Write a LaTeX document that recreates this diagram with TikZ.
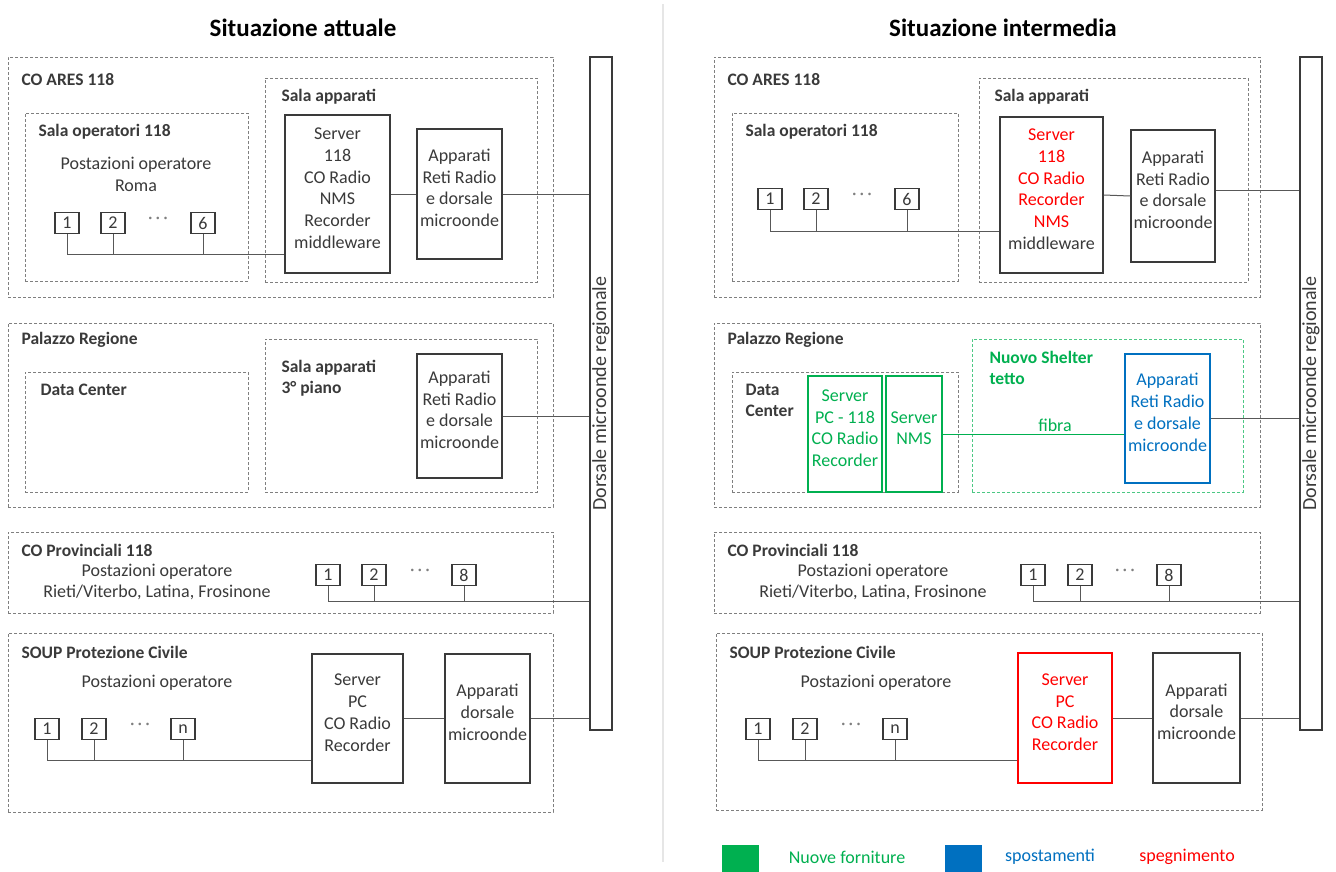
\documentclass[tikz,border=0pt]{standalone}
\usepackage{fontspec}
\setmainfont{Carlito}
\usetikzlibrary{fit}
\definecolor{gGreen}{HTML}{00B050}
\definecolor{gBlue}{HTML}{0070C0}
\definecolor{gRed}{HTML}{FF0000}
\definecolor{ink}{HTML}{3A3A3A}
\definecolor{dashc}{HTML}{7F7F7F}
\definecolor{sepc}{HTML}{E6E6E6}
\begin{document}
\begin{tikzpicture}[x=1pt,y=-1pt,
  every node/.style={font=\fontsize{18}{21.8}\selectfont, text=ink},
  grp/.style={draw=dashc, dash pattern=on 3pt off 2pt, line width=1pt, inner sep=0pt},
  sbox/.style={draw=ink, line width=1.5pt, inner sep=0pt, align=center},
  num/.style={draw=ink, line width=1.3pt, minimum width=24pt, minimum height=21pt, inner sep=0pt},
  lbl/.style={anchor=west, align=left, font=\bfseries\fontsize{17.5}{21}\selectfont},
  ttl/.style={font=\bfseries\fontsize{25}{28}\selectfont, text=black},
  dots/.style={text=dashc},
  wire/.style={draw=ink!85, line width=1pt},
  bartxt/.style={rotate=90, font=\fontsize{20}{22}\selectfont}
]
\useasboundingbox (0,0) rectangle (1336,871);
\fill[white] (0,0) rectangle (1336,871);
\draw[sepc, line width=1.5pt] (663,4) -- (663,862);

% ================= LEFT =================
\node[ttl] (tL) at (303,28) {Situazione attuale};

\node[grp, fit={(8,57)(553,297)}] (aresL) {};
\node[lbl] (aresLl) at (18,80) {CO ARES 118};
\node[grp, fit={(25,113)(248,281)}] (sopL) {};
\node[lbl] (sopLl) at (35,132) {Sala operatori 118};
\node (sopLt) at (136,174) [align=center] {Postazioni operatore\\Roma};
\node[num] (a1L) at (67,223) {1};
\node[num] (a2L) at (113,223) {2};
\node[dots] (adL) at (158,220) {·\,·\,·};
\node[num] (a6L) at (203,223) {6};
\node[grp, fit={(265,78)(537,282)}] (sapL) {};
\node[lbl] (sapLl) at (278,97) {Sala apparati};
\node[sbox, fit={(285,115)(390,273)}] (srvL) {Server\\118\\CO Radio\\NMS\\Recorder\\middleware};
\node[sbox, fit={(417,129)(502,259)}] (appL) {Apparati\\Reti Radio\\e dorsale\\microonde};

\node[sbox, line width=1.3pt, fit={(590,57)(612,730)}] (barL) {};
\node[bartxt] (barLt) at (barL.center) {Dorsale microonde regionale};

\path (a1L.south) ++(0,20) coordinate (busAL);
\draw[wire] (a1L.south) |- (busAL -| srvL.west);
\draw[wire] (a2L.south) -- (a2L.south |- busAL);
\draw[wire] (a6L.south) -- (a6L.south |- busAL);
\draw[wire] (srvL.east) -- (appL.west);
\draw[wire] (appL.east) -- (appL.east -| barL.west);

\node[grp, fit={(8,323)(553,507)}] (palL) {};
\node[lbl] (palLl) at (18,340) {Palazzo Regione};
\node[grp, fit={(25,372)(248,492)}] (dcL) {};
\node[lbl] (dcLl) at (37,390) {Data Center};
\node[grp, fit={(265,339)(537,492)}] (sa3L) {};
\node[lbl] (sa3Ll) at (278,378.5) {Sala apparati\\3° piano};
\node[sbox, fit={(417,354)(502,478)}] (app2L) {Apparati\\Reti Radio\\e dorsale\\microonde};
\draw[wire] (app2L.east) -- (app2L.east -| barL.west);

\node[grp, fit={(8,532)(553,613)}] (provL) {};
\node[lbl] (provLl) at (18,550) {CO Provinciali 118};
\node (provLt) at (157,582) [align=center] {Postazioni operatore\\Rieti/Viterbo, Latina, Frosinone};
\node[num] (p1L) at (328,575) {1};
\node[num] (p2L) at (374,575) {2};
\node[dots] (pdL) at (420,572) {·\,·\,·};
\node[num] (p8L) at (464,575) {8};
\path (p1L.south) ++(0,15.5) coordinate (busPL);
\draw[wire] (p1L.south) |- (busPL -| barL.west);
\draw[wire] (p2L.south) -- (p2L.south |- busPL);
\draw[wire] (p8L.south) -- (p8L.south |- busPL);

\node[grp, fit={(8,633)(553,812)}] (soupL) {};
\node[lbl] (soupLl) at (18,652) {SOUP Protezione Civile};
\node (soupLt) at (157,683) {Postazioni operatore};
\node[num] (s1L) at (47,729) {1};
\node[num] (s2L) at (94,729) {2};
\node[dots] (sdL) at (140,726) {·\,·\,·};
\node[num] (snL) at (183,729) {n};
\node[sbox, text depth=34pt, fit={(312,654)(403,783)}] (srv3L) {Server\\PC\\CO Radio\\Recorder};
\node[sbox, fit={(445,654)(530,783)}] (app3L) {Apparati\\dorsale\\microonde};
\path (s1L.south) ++(0,20.5) coordinate (busSL);
\draw[wire] (s1L.south) |- (busSL -| srv3L.west);
\draw[wire] (s2L.south) -- (s2L.south |- busSL);
\draw[wire] (snL.south) -- (snL.south |- busSL);
\draw[wire] (srv3L.east) -- (app3L.west);
\draw[wire] (app3L.east) -- (app3L.east -| barL.west);

% ================= RIGHT =================
\node[ttl] (tR) at (1003,28) {Situazione intermedia};

\node[grp, fit={(714,57)(1260,297)}] (aresR) {};
\node[lbl] (aresRl) at (724,80) {CO ARES 118};
\node[grp, fit={(732,113)(958,281)}] (sopR) {};
\node[lbl] (sopRl) at (742,132) {Sala operatori 118};
\node[num] (a1R) at (770,199) {1};
\node[num] (a2R) at (816,199) {2};
\node[dots] (adR) at (862,196) {·\,·\,·};
\node[num] (a6R) at (907,199) {6};
\node[grp, fit={(979,78)(1248,282)}] (sapR) {};
\node[lbl] (sapRl) at (991,97) {Sala apparati};
\node[sbox, text depth=28pt, fit={(1000,117)(1103,273)}] (srvR) {\textcolor{gRed}{Server}\\\textcolor{gRed}{118}\\\textcolor{gRed}{CO Radio}\\\textcolor{gRed}{Recorder}\\\textcolor{gRed}{NMS}\\middleware};
\node[sbox, fit={(1131,130)(1215,262)}] (appR) {Apparati\\Reti Radio\\e dorsale\\microonde};

\node[sbox, line width=1.3pt, fit={(1300,57)(1322,730)}] (barR) {};
\node[bartxt] (barRt) at (barR.center) {Dorsale microonde regionale};

\path (a1R.south) ++(0,21) coordinate (busAR);
\draw[wire] (a1R.south) |- (busAR -| srvR.west);
\draw[wire] (a2R.south) -- (a2R.south |- busAR);
\draw[wire] (a6R.south) -- (a6R.south |- busAR);
\draw[wire] (srvR.east) -- (appR.west);
\draw[wire] ([yshift=6pt]appR.east) -- ([yshift=6pt]appR.east -| barR.west);

\node[grp, fit={(714,323)(1260,507)}] (palR) {};
\node[lbl] (palRl) at (724,340) {Palazzo Regione};
\node[grp, fit={(732,372)(958,492)}] (dcR) {};
\node[lbl] (dcRl) at (742,400.5) {Data\\Center};
\node[sbox, draw=gGreen, text=gGreen, fit={(808,376)(882,492)}] (spcR) {Server\\PC - 118\\CO Radio\\Recorder};
\node[sbox, draw=gGreen, text=gGreen, fit={(886,376)(942,492)}] (nmsR) {Server\\NMS};
\node[grp, draw=gGreen!70, fit={(972,339)(1243,492)}] (shR) {};
\node[lbl, text=gGreen] (shRl) at (986,367.5) {Nuovo Shelter\\tetto};
\node[sbox, draw=gBlue, text=gBlue, fit={(1125,354)(1210,483)}] (appBR) {Apparati\\Reti Radio\\e dorsale\\microonde};
\draw[wire, draw=gGreen] (nmsR.east) -- (nmsR.east -| appBR.west);
\node[text=gGreen] (fibra) at (1055,425) {fibra};
\draw[wire] (appBR.east) -- (appBR.east -| barR.west);

\node[grp, fit={(714,532)(1260,613)}] (provR) {};
\node[lbl] (provRl) at (724,550) {CO Provinciali 118};
\node (provRt) at (873,582) [align=center] {Postazioni operatore\\Rieti/Viterbo, Latina, Frosinone};
\node[num] (p1R) at (1033,575) {1};
\node[num] (p2R) at (1080,575) {2};
\node[dots] (pdR) at (1125,572) {·\,·\,·};
\node[num] (p8R) at (1169,575) {8};
\path (p1R.south) ++(0,15.5) coordinate (busPR);
\draw[wire] (p1R.south) |- (busPR -| barR.west);
\draw[wire] (p2R.south) -- (p2R.south |- busPR);
\draw[wire] (p8R.south) -- (p8R.south |- busPR);

\node[grp, fit={(716,633)(1262,810)}] (soupR) {};
\node[lbl] (soupRl) at (726,652) {SOUP Protezione Civile};
\node (soupRt) at (876,683) {Postazioni operatore};
\node[num] (s1R) at (758,729) {1};
\node[num] (s2R) at (805,729) {2};
\node[dots] (sdR) at (851,726) {·\,·\,·};
\node[num] (snR) at (895,729) {n};
\node[sbox, draw=gRed, text=gRed, text depth=28pt, fit={(1018,653)(1112,783)}] (srv3R) {Server\\PC\\CO Radio\\Recorder};
\node[sbox, fit={(1153,653)(1240,783)}] (app3R) {Apparati\\dorsale\\microonde};
\path (s1R.south) ++(0,20.5) coordinate (busSR);
\draw[wire] (s1R.south) |- (busSR -| srv3R.west);
\draw[wire] (s2R.south) -- (s2R.south |- busSR);
\draw[wire] (snR.south) -- (snR.south |- busSR);
\draw[wire] (srv3R.east) -- (app3R.west);
\draw[wire] (app3R.east) -- (app3R.east -| barR.west);

% ================= LEGEND =================
\node[fill=gGreen, minimum width=37pt, minimum height=30pt, inner sep=0pt] (lgG) at (740.5,860) {};
\node[text=gGreen] (lgGt) at (847,857) {Nuove forniture};
\node[fill=gBlue, minimum width=37pt, minimum height=30pt, inner sep=0pt] (lgB) at (963.5,860) {};
\node[text=gBlue] (lgBt) at (1050,857) {spostamenti};
\node[text=gRed] (lgRt) at (1187,857) {spegnimento};
\end{tikzpicture}
\end{document}
